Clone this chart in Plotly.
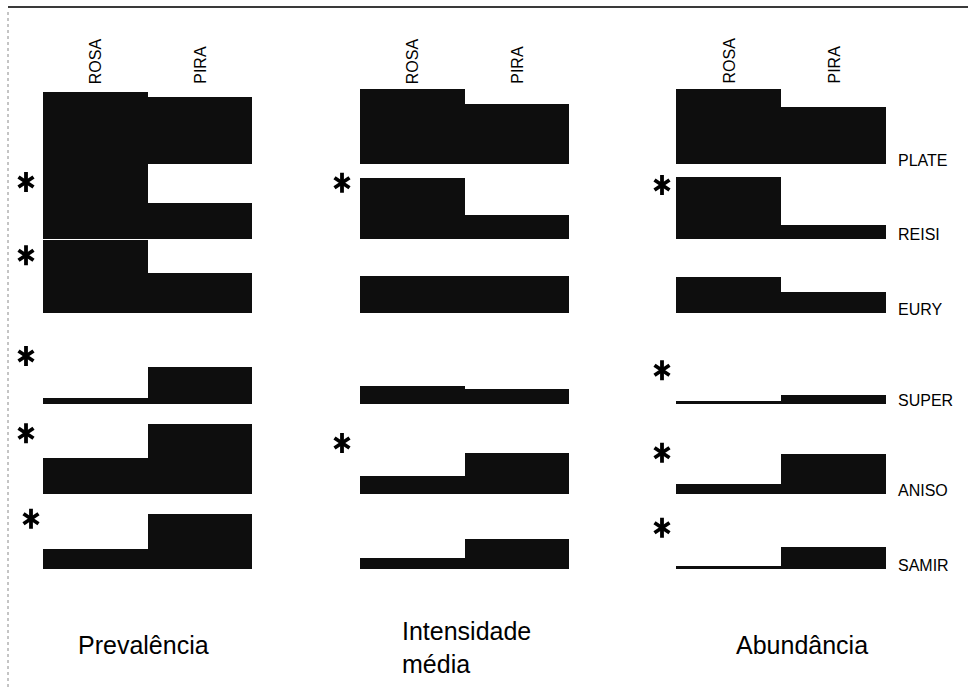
import plotly.graph_objects as go

# Parasite groups (rows) and localities (bar pairs)
groups = ["PLATE", "REISI", "EURY", "SUPER", "ANISO", "SAMIR"]
localities = ["ROSA", "PIRA"]
panels = ["Prevalência", "Intensidade média", "Abundância"]

# Relative values (each row scaled to 0-100)
prev_rosa = [96, 100, 97, 8, 48, 27]
prev_pira = [89, 48, 53, 49, 93, 73]
int_rosa = [100, 81, 50, 24, 24, 15]
int_pira = [80, 32, 49, 20, 55, 40]
abund_rosa = [100, 83, 48, 4, 13, 4]
abund_pira = [76, 19, 28, 12, 53, 29]

# Significant differences between localities (marked with an asterisk)
prev_sig = [False, True, True, True, True, True]
int_sig = [False, True, False, False, True, False]
abund_sig = [False, True, False, True, True, True]

values = [(prev_rosa, prev_pira), (int_rosa, int_pira), (abund_rosa, abund_pira)]
signif = [prev_sig, int_sig, abund_sig]

# ---- layout geometry (pixels) ----
W, H = 968, 690
panel_x = [(43, 252), (360, 569), (676, 886)]
pad_left = 34          # room left of each panel for the asterisks
row_base = [164, 239, 313, 404, 494, 569]
row_h = 75
# vertical placement of each asterisk, in row units above the baseline
star_y = [
    [None, 76, 77, 64, 81, 67],
    [None, 75, None, None, 68, None],
    [None, 72, None, 45, 55, 55],
]
# horizontal offset of each asterisk from the panel's left edge (px)
star_dx = [
    [None, -17, -17, -17, -17, -12],
    [None, -18, None, None, -18, None],
    [None, -14, None, -14, -14, -14],
]

BAR = "#0e0e0e"
FONT = "Liberation Sans, Arial, sans-serif"

fig = go.Figure()
layout = dict(
    width=W, height=H, margin=dict(l=0, r=0, t=0, b=0),
    paper_bgcolor="white", plot_bgcolor="rgba(0,0,0,0)",
    showlegend=False, bargap=0,
    font=dict(family=FONT, color="black"),
)

n = 0
for p in range(3):
    x0, x1 = panel_x[p]
    wcat = (x1 - x0) / 2
    rosa, pira = values[p]
    for r in range(len(groups)):
        n += 1
        xa = "x" if n == 1 else f"x{n}"
        ya = "y" if n == 1 else f"y{n}"
        b = row_base[r]
        layout["xaxis" if n == 1 else f"xaxis{n}"] = dict(
            domain=[(x0 - pad_left) / W, x1 / W],
            range=[-0.5 - pad_left / wcat, 1.5], visible=False,
            anchor=ya, fixedrange=True)
        layout["yaxis" if n == 1 else f"yaxis{n}"] = dict(
            domain=[1 - b / H, 1 - (b - row_h) / H], range=[0, 100],
            visible=False, anchor=xa, fixedrange=True)
        fig.add_trace(go.Bar(
            x=[0, 1], y=[rosa[r], pira[r]], xaxis=xa, yaxis=ya,
            marker=dict(color=BAR, line=dict(width=0)), width=1,
            hoverinfo="skip"))
        if signif[p][r]:
            sx = -0.5 + star_dx[p][r] / wcat
            for sym in ("y-up-open", "y-down-open"):
                fig.add_trace(go.Scatter(
                    x=[sx], y=[star_y[p][r]], xaxis=xa, yaxis=ya,
                    mode="markers", cliponaxis=False, hoverinfo="skip",
                    marker=dict(symbol=sym, size=12.5, color="black",
                                line=dict(width=3.8, color="black"))))

annotations = []
# locality headers above each panel
for p in range(3):
    x0, x1 = panel_x[p]
    wcat = (x1 - x0) / 2
    for i, loc in enumerate(localities):
        cx = x0 + wcat * (i + 0.5)
        annotations.append(dict(
            text=loc, x=cx / W, y=1 - 86 / H, xref="paper", yref="paper",
            xanchor="center", yanchor="bottom", textangle=-90,
            showarrow=False, font=dict(size=16, family=FONT)))

# group labels to the right of the last panel
for r, g in enumerate(groups):
    annotations.append(dict(
        text=g, x=896 / W, y=1 - (row_base[r] - 4) / H, xref="paper",
        yref="paper", xanchor="left", yanchor="middle", showarrow=False,
        font=dict(size=16, family=FONT)))

# panel titles
annotations.append(dict(text="Prevalência", x=143 / W, y=1 - 645 / H,
                        xref="paper", yref="paper", xanchor="center",
                        yanchor="middle", showarrow=False,
                        font=dict(size=25, family=FONT)))
annotations.append(dict(text="Intensidade<br>média", x=400 / W, y=1 - 647 / H,
                        xref="paper", yref="paper", xanchor="left",
                        yanchor="middle", align="left", showarrow=False,
                        font=dict(size=25, family=FONT)))
annotations.append(dict(text="Abundância", x=802 / W, y=1 - 645 / H,
                        xref="paper", yref="paper", xanchor="center",
                        yanchor="middle", showarrow=False,
                        font=dict(size=25, family=FONT)))
layout["annotations"] = annotations

# frame: top rule and dotted left edge
layout["shapes"] = [
    dict(type="line", xref="paper", yref="paper", x0=8 / W, x1=1,
         y0=1 - 7 / H, y1=1 - 7 / H, line=dict(color="#3a3a3a", width=2)),
    dict(type="line", xref="paper", yref="paper", x0=8 / W, x1=8 / W,
         y0=1 - 12 / H, y1=0, line=dict(color="#8a8a8a", width=1, dash="dot")),
]

fig.update_layout(**layout)
fig.write_html("out.html")
